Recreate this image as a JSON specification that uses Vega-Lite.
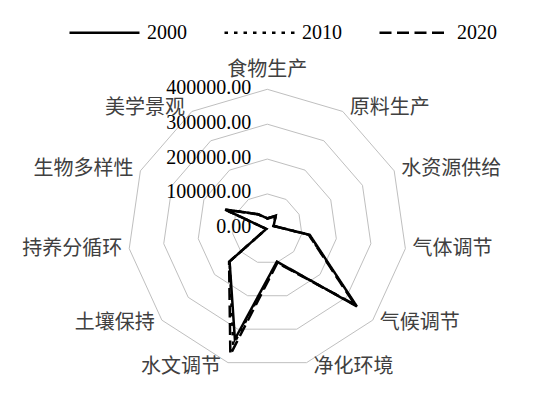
{
  "$schema": "https://vega.github.io/schema/vega-lite/v6.json",
  "width": 549,
  "height": 399,
  "autosize": "none",
  "padding": 0,
  "background": "white",
  "config": {"view": {"stroke": null}},
  "datasets": {
    "series": [
      {"cat": "食物生产", "year": "2000", "value": 30000},
      {"cat": "原料生产", "year": "2000", "value": 45000},
      {"cat": "水资源供给", "year": "2000", "value": 20000},
      {"cat": "气体调节", "year": "2000", "value": 123000},
      {"cat": "气候调节", "year": "2000", "value": 340000},
      {"cat": "净化环境", "year": "2000", "value": 98000},
      {"cat": "水文调节", "year": "2000", "value": 330000},
      {"cat": "土壤保持", "year": "2000", "value": 143000},
      {"cat": "持养分循环", "year": "2000", "value": 3000},
      {"cat": "生物多样性", "year": "2000", "value": 133000},
      {"cat": "美学景观", "year": "2000", "value": 50000},
      {"cat": "食物生产", "year": "2010", "value": 30000},
      {"cat": "原料生产", "year": "2010", "value": 44000},
      {"cat": "水资源供给", "year": "2010", "value": 20000},
      {"cat": "气体调节", "year": "2010", "value": 121000},
      {"cat": "气候调节", "year": "2010", "value": 335000},
      {"cat": "净化环境", "year": "2010", "value": 100000},
      {"cat": "水文调节", "year": "2010", "value": 347000},
      {"cat": "土壤保持", "year": "2010", "value": 143000},
      {"cat": "持养分循环", "year": "2010", "value": 3000},
      {"cat": "生物多样性", "year": "2010", "value": 132000},
      {"cat": "美学景观", "year": "2010", "value": 50000},
      {"cat": "食物生产", "year": "2020", "value": 29000},
      {"cat": "原料生产", "year": "2020", "value": 43000},
      {"cat": "水资源供给", "year": "2020", "value": 19000},
      {"cat": "气体调节", "year": "2020", "value": 120000},
      {"cat": "气候调节", "year": "2020", "value": 333000},
      {"cat": "净化环境", "year": "2020", "value": 102000},
      {"cat": "水文调节", "year": "2020", "value": 376000},
      {"cat": "土壤保持", "year": "2020", "value": 145000},
      {"cat": "持养分循环", "year": "2020", "value": 3000},
      {"cat": "生物多样性", "year": "2020", "value": 131000},
      {"cat": "美学景观", "year": "2020", "value": 49000}
    ],
    "rings": [
      {"level": 100000, "cat": ["食物生产","原料生产","水资源供给","气体调节","气候调节","净化环境","水文调节","土壤保持","持养分循环","生物多样性","美学景观"]},
      {"level": 200000, "cat": ["食物生产","原料生产","水资源供给","气体调节","气候调节","净化环境","水文调节","土壤保持","持养分循环","生物多样性","美学景观"]},
      {"level": 300000, "cat": ["食物生产","原料生产","水资源供给","气体调节","气候调节","净化环境","水文调节","土壤保持","持养分循环","生物多样性","美学景观"]},
      {"level": 400000, "cat": ["食物生产","原料生产","水资源供给","气体调节","气候调节","净化环境","水文调节","土壤保持","持养分循环","生物多样性","美学景观"]}
    ],
    "ticks": [
      {"level": 0}, {"level": 100000}, {"level": 200000}, {"level": 300000}, {"level": 400000}
    ],
    "cats": [
      {"cat": "食物生产"}, {"cat": "原料生产"}, {"cat": "水资源供给"}, {"cat": "气体调节"},
      {"cat": "气候调节"}, {"cat": "净化环境"}, {"cat": "水文调节"}, {"cat": "土壤保持"},
      {"cat": "持养分循环"}, {"cat": "生物多样性"}, {"cat": "美学景观"}
    ]
  },
  "layer": [
    {
      "data": {"name": "rings"},
      "transform": [
        {"flatten": ["cat"]},
        {"calculate": "indexof(['食物生产','原料生产','水资源供给','气体调节','气候调节','净化环境','水文调节','土壤保持','持养分循环','生物多样性','美学景观'], datum.cat)", "as": "i"},
        {"calculate": "datum.level * sin(datum.i * 2 * PI / 11)", "as": "x"},
        {"calculate": "datum.level * cos(datum.i * 2 * PI / 11)", "as": "y"}
      ],
      "mark": {"type": "line", "interpolate": "linear-closed", "stroke": "#BFBFBF", "strokeWidth": 1},
      "encoding": {
        "x": {"field": "x", "type": "quantitative", "scale": {"domain": [-766452, 807742], "nice": false, "zero": false}, "axis": null},
        "y": {"field": "y", "type": "quantitative", "scale": {"domain": [-488029, 656057], "nice": false, "zero": false}, "axis": null},
        "detail": {"field": "level", "type": "nominal"},
        "order": {"field": "i", "type": "quantitative"}
      }
    },
    {
      "data": {"name": "series"},
      "transform": [
        {"calculate": "indexof(['食物生产','原料生产','水资源供给','气体调节','气候调节','净化环境','水文调节','土壤保持','持养分循环','生物多样性','美学景观'], datum.cat)", "as": "i"},
        {"calculate": "datum.value * sin(datum.i * 2 * PI / 11)", "as": "x"},
        {"calculate": "datum.value * cos(datum.i * 2 * PI / 11)", "as": "y"}
      ],
      "mark": {"type": "line", "interpolate": "linear-closed", "stroke": "black", "strokeWidth": 2.5},
      "encoding": {
        "x": {"field": "x", "type": "quantitative", "scale": {"domain": [-766452, 807742], "nice": false, "zero": false}, "axis": null},
        "y": {"field": "y", "type": "quantitative", "scale": {"domain": [-488029, 656057], "nice": false, "zero": false}, "axis": null},
        "strokeDash": {
          "field": "year", "type": "nominal",
          "scale": {"domain": ["2000", "2010", "2020"], "range": [[1, 0], [3.5, 6], [12, 5.5]]},
          "legend": {
            "orient": "none", "legendX": 68, "legendY": -4, "direction": "horizontal", "title": null,
            "symbolType": "stroke", "symbolSize": 4900, "symbolStrokeWidth": 2.5, "symbolStrokeColor": "black",
            "labelFont": "Liberation Serif", "labelFontSize": 20, "labelColor": "black",
            "labelOffset": 6, "columnPadding": 32, "padding": 0
          }
        },
        "order": {"field": "i", "type": "quantitative"}
      }
    },
    {
      "data": {"name": "ticks"},
      "transform": [
        {"calculate": "0", "as": "x"}
      ],
      "mark": {"type": "text", "align": "right", "baseline": "middle", "dx": -16, "dy": -1.5, "font": "Liberation Serif", "fontSize": 20, "color": "black"},
      "encoding": {
        "x": {"field": "x", "type": "quantitative"},
        "y": {"field": "level", "type": "quantitative"},
        "text": {"field": "level", "type": "quantitative", "format": ".2f"}
      }
    },
    {
      "data": {"name": "cats"},
      "transform": [
        {"calculate": "indexof(['食物生产','原料生产','水资源供给','气体调节','气候调节','净化环境','水文调节','土壤保持','持养分循环','生物多样性','美学景观'], datum.cat)", "as": "i"},
        {"filter": "datum.i == 0"},
        {"calculate": "400000 * sin(datum.i * 2 * PI / 11)", "as": "x"},
        {"calculate": "400000 * cos(datum.i * 2 * PI / 11)", "as": "y"}
      ],
      "mark": {"type": "text", "align": "center", "baseline": "middle", "dy": -19, "font": "Noto Sans CJK SC", "fontSize": 20, "color": "#404040"},
      "encoding": {
        "x": {"field": "x", "type": "quantitative"},
        "y": {"field": "y", "type": "quantitative"},
        "text": {"field": "cat", "type": "nominal"}
      }
    },
    {
      "data": {"name": "cats"},
      "transform": [
        {"calculate": "indexof(['食物生产','原料生产','水资源供给','气体调节','气候调节','净化环境','水文调节','土壤保持','持养分循环','生物多样性','美学景观'], datum.cat)", "as": "i"},
        {"filter": "datum.i >= 1 && datum.i <= 5"},
        {"calculate": "400000 * sin(datum.i * 2 * PI / 11)", "as": "x"},
        {"calculate": "412000 * cos(datum.i * 2 * PI / 11)", "as": "y"}
      ],
      "mark": {"type": "text", "align": "left", "baseline": "middle", "dx": 7, "font": "Noto Sans CJK SC", "fontSize": 20, "color": "#404040"},
      "encoding": {
        "x": {"field": "x", "type": "quantitative"},
        "y": {"field": "y", "type": "quantitative"},
        "text": {"field": "cat", "type": "nominal"}
      }
    },
    {
      "data": {"name": "cats"},
      "transform": [
        {"calculate": "indexof(['食物生产','原料生产','水资源供给','气体调节','气候调节','净化环境','水文调节','土壤保持','持养分循环','生物多样性','美学景观'], datum.cat)", "as": "i"},
        {"filter": "datum.i >= 6"},
        {"calculate": "400000 * sin(datum.i * 2 * PI / 11)", "as": "x"},
        {"calculate": "412000 * cos(datum.i * 2 * PI / 11)", "as": "y"}
      ],
      "mark": {"type": "text", "align": "right", "baseline": "middle", "dx": -7, "font": "Noto Sans CJK SC", "fontSize": 20, "color": "#404040"},
      "encoding": {
        "x": {"field": "x", "type": "quantitative"},
        "y": {"field": "y", "type": "quantitative"},
        "text": {"field": "cat", "type": "nominal"}
      }
    }
  ]
}
